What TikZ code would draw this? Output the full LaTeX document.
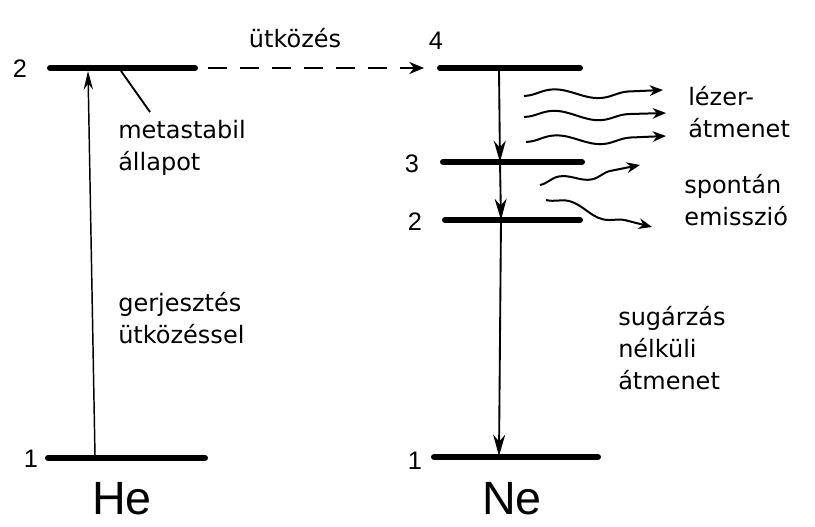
\documentclass[tikz,border=0pt]{standalone}
\usepackage{fontspec}
\setmainfont{Liberation Sans}
\newfontfamily\hand{DejaVu Sans}
\usetikzlibrary{arrows.meta,decorations.pathmorphing}
\begin{document}
\begin{tikzpicture}[x=0.75pt,y=-0.75pt,
  level/.style={line width=4.5pt,line cap=round},
  num/.style={font=\fontsize{19}{21}\selectfont,inner sep=0pt},
  atom/.style={font=\fontsize{35}{38}\selectfont,inner sep=0pt},
  lbl/.style={font=\hand\fontsize{18}{24}\selectfont,inner sep=0pt,anchor=west,align=left},
  conn/.style={line width=1.4pt,-{Stealth[length=16pt,width=9pt]}},
  wave/.style={line width=1.5pt,-{Stealth[length=10pt,width=8pt]},decorate,
    decoration={snake,amplitude=4pt,segment length=70pt,post length=9pt}}]
\useasboundingbox (0,0) rectangle (815,527);
% He levels
\coordinate (he2a) at (50,68); \coordinate (he2b) at (195,68);
\coordinate (he1a) at (48,458); \coordinate (he1b) at (205,458);
\draw[level] (he2a) -- (he2b);
\draw[level] (he1a) -- (he1b);
\node[num] (nhe2) at (20,69) {2};
\node[num] (nhe1) at (31,459) {1};
\node[atom] (he) at (122,499) {He};
% excitation arrow
\coordinate (exb) at (95,456); \coordinate (ext) at (88,71);
\draw[conn,line width=1.1pt,-{Stealth[length=14pt,width=7pt]}] (exb) -- (ext);
\node[lbl] (gerj) at (118,318) {gerjesztés\\ütközéssel};
% metastable pointer
\coordinate (mpa) at (121,71); \coordinate (mpb) at (150,112);
\draw[line width=1.4pt] (mpa) -- (mpb);
\node[lbl] (meta) at (118,148) {metastabil\\állapot};
% Ne levels
\coordinate (ne4a) at (440,68); \coordinate (ne4b) at (580,68);
\coordinate (ne3a) at (443,162); \coordinate (ne3b) at (582,162);
\coordinate (ne2a) at (445,220); \coordinate (ne2b) at (580,220);
\coordinate (ne1a) at (434,457); \coordinate (ne1b) at (598,457);
\draw[level] (ne4a) -- (ne4b);
\draw[level] (ne3a) -- (ne3b);
\draw[level] (ne2a) -- (ne2b);
\draw[level] (ne1a) -- (ne1b);
\node[num] (nne4) at (436,41) {4};
\node[num] (nne3) at (412,164) {3};
\node[num] (nne2) at (415,222) {2};
\node[num] (nne1) at (415,461) {1};
\node[atom] (ne) at (512,499) {Ne};
% collision transfer
\coordinate (cs) at (208,68); \coordinate (ce) at (424,68);
\draw[line width=1.6pt,dash pattern=on 14pt off 10pt,-{Stealth[length=11pt,width=9pt]}] (cs) -- (ce);
\node[font=\hand\fontsize{18}{24}\selectfont,inner sep=0pt] (utk) at (295,38) {ütközés};
% Ne vertical decays
\coordinate (d4) at (499,70); \coordinate (d3) at (500,162);
\coordinate (d2) at (501,220); \coordinate (d1) at (499,456);
\draw[conn] (d4) -- (d3);
\draw[conn] (d3) -- (d2);
\draw[conn] (d2) -- (d1);
% laser waves
\coordinate (w1s) at (524,96); \coordinate (w1e) at (663,90);
\coordinate (w2s) at (524,117); \coordinate (w2e) at (666,113);
\coordinate (w3s) at (526,142); \coordinate (w3e) at (666,136);
\draw[wave] (w1s) -- (w1e);
\draw[wave] (w2s) -- (w2e);
\draw[wave] (w3s) -- (w3e);
\node[lbl] (lezer) at (688,112) {lézer-\\átmenet};
% spontaneous waves
\coordinate (s1s) at (540,185); \coordinate (s1e) at (640,165);
\coordinate (s2s) at (546,200); \coordinate (s2e) at (652,227);
\draw[wave,decoration={snake,amplitude=3.5pt,segment length=48pt,post length=9pt}] (s1s) -- (s1e);
\draw[wave,decoration={snake,amplitude=3.5pt,segment length=55pt,post length=9pt}] (s2s) -- (s2e);
\node[lbl] (spon) at (684,200) {spontán\\emisszió};
% radiationless
\node[lbl] (sug) at (618,348) {sugárzás\\nélküli\\átmenet};
\end{tikzpicture}
\end{document}
